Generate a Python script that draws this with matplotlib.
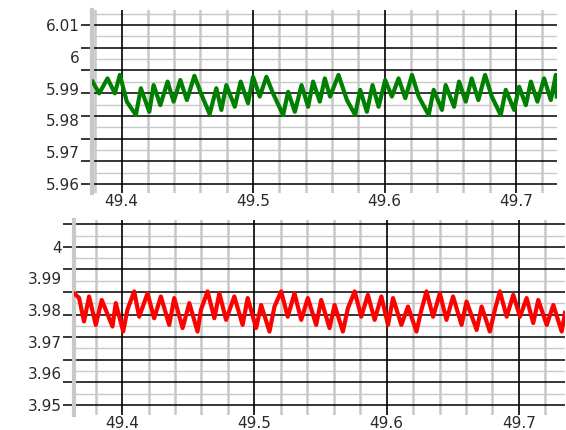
import numpy as np
import matplotlib.pyplot as plt

# ---- data (local peaks / troughs of each trace) ----
top_x = [49.3779, 49.3830, 49.3893, 49.3949, 49.3987, 49.4040, 49.4109, 49.4147,
         49.4211, 49.4244, 49.4295, 49.4350, 49.4396, 49.4447, 49.4497, 49.4554,
         49.4604, 49.4670, 49.4721, 49.4759, 49.4797, 49.4861, 49.4906, 49.4962,
         49.5000, 49.5051, 49.5102, 49.5152, 49.5229, 49.5267, 49.5318, 49.5369,
         49.5419, 49.5457, 49.5508, 49.5546, 49.5586, 49.5650, 49.5714, 49.5777,
         49.5815, 49.5866, 49.5909, 49.5955, 49.6005, 49.6056, 49.6107, 49.6158,
         49.6209, 49.6260, 49.6336, 49.6374, 49.6437, 49.6465, 49.6529, 49.6567,
         49.6618, 49.6663, 49.6714, 49.6765, 49.6816, 49.6884, 49.6922, 49.6986,
         49.7024, 49.7075, 49.7113, 49.7163, 49.7214, 49.7265, 49.7303, 49.7310]
top_y = [5.9922, 5.9885, 5.9932, 5.9885, 5.9943, 5.9859, 5.9817, 5.9901,
         5.9827, 5.9911, 5.9848, 5.9922, 5.9859, 5.9927, 5.9864, 5.9940,
         5.9885, 5.9820, 5.9901, 5.9833, 5.9911, 5.9843, 5.9922, 5.9854,
         5.9937, 5.9875, 5.9937, 5.9885, 5.9817, 5.9890, 5.9827, 5.9911,
         5.9843, 5.9922, 5.9859, 5.9932, 5.9875, 5.9943, 5.9864, 5.9817,
         5.9896, 5.9827, 5.9911, 5.9843, 5.9927, 5.9875, 5.9932, 5.9870,
         5.9943, 5.9875, 5.9817, 5.9896, 5.9833, 5.9911, 5.9843, 5.9922,
         5.9859, 5.9932, 5.9864, 5.9943, 5.9875, 5.9817, 5.9896, 5.9833,
         5.9906, 5.9848, 5.9922, 5.9859, 5.9932, 5.9864, 5.9943, 5.9875]

bot_x = [49.3636, 49.3674, 49.3712, 49.3750, 49.3801, 49.3846, 49.3927, 49.3952,
         49.4008, 49.4040, 49.4091, 49.4129, 49.4192, 49.4242, 49.4293, 49.4356,
         49.4394, 49.4457, 49.4508, 49.4570, 49.4596, 49.4646, 49.4697, 49.4735,
         49.4786, 49.4848, 49.4911, 49.4949, 49.5013, 49.5051, 49.5114, 49.5152,
         49.5202, 49.5252, 49.5303, 49.5354, 49.5404, 49.5467, 49.5505, 49.5568,
         49.5606, 49.5669, 49.5707, 49.5758, 49.5808, 49.5858, 49.5909, 49.5960,
         49.6010, 49.6048, 49.6111, 49.6161, 49.6225, 49.6263, 49.6301, 49.6351,
         49.6402, 49.6452, 49.6502, 49.6566, 49.6604, 49.6680, 49.6718, 49.6780,
         49.6818, 49.6856, 49.6907, 49.6957, 49.7008, 49.7058, 49.7108, 49.7146,
         49.7210, 49.7260, 49.7323, 49.7348]
bot_y = [3.9853, 3.9839, 3.9764, 3.9843, 3.9753, 3.9832, 3.9748, 3.9822,
         3.9732, 3.9801, 3.9859, 3.9779, 3.9853, 3.9774, 3.9843, 3.9753,
         3.9838, 3.9743, 3.9822, 3.9732, 3.9801, 3.9859, 3.9774, 3.9853,
         3.9769, 3.9843, 3.9753, 3.9838, 3.9743, 3.9816, 3.9732, 3.9811,
         3.9859, 3.9779, 3.9853, 3.9769, 3.9838, 3.9753, 3.9832, 3.9743,
         3.9816, 3.9732, 3.9806, 3.9859, 3.9779, 3.9848, 3.9769, 3.9843,
         3.9753, 3.9838, 3.9753, 3.9811, 3.9732, 3.9801, 3.9859, 3.9779,
         3.9853, 3.9769, 3.9843, 3.9753, 3.9827, 3.9737, 3.9811, 3.9732,
         3.9801, 3.9859, 3.9779, 3.9848, 3.9779, 3.9838, 3.9759, 3.9832,
         3.9753, 3.9816, 3.9732, 3.9791]

x_ticks = [49.4, 49.5, 49.6, 49.7]
top_labels = [5.96, 5.97, 5.98, 5.99, 6.0, 6.01]
bot_labels = [3.95, 3.96, 3.97, 3.98, 3.99, 4.0]

GRAY = '#c8c8c8'
TXT = '#2a2a2a'


def fmt(v):
    s = '%.2f' % v
    return s.rstrip('0').rstrip('.')


def style(ax, xlim, ylim, ymajor, labels):
    for s in ['top', 'right', 'bottom']:
        ax.spines[s].set_visible(False)
    ax.spines['left'].set_color(GRAY)
    ax.spines['left'].set_linewidth(3)
    # y labels sit on 0.01 steps, which can coincide with the black lines
    ax.yaxis.remove_overlapping_locs = False

    # vertical grid: black every 0.1, gray every 0.02
    ax.set_xticks(x_ticks)
    ax.set_xticklabels([str(v) for v in x_ticks])
    ax.set_xticks(np.arange(49.30, 49.80, 0.02), minor=True)
    ax.tick_params(axis='x', which='both', length=0, pad=1,
                   labelsize=11, labelcolor=TXT)
    ax.xaxis.grid(True, which='major', color='black', lw=1.2, zorder=0.6)
    ax.xaxis.grid(True, which='minor', color=GRAY, lw=1.8)

    # horizontal grid: black lines with little dashes, labels on 0.01 steps
    ax.set_yticks(ymajor)
    ax.set_yticklabels([])
    ax.yaxis.grid(True, which='major', color='black', lw=1.1)
    ax.tick_params(axis='y', which='major', length=8, width=1.1,
                   color='black', direction='out')
    ax.set_yticks(labels, minor=True)
    ax.set_yticklabels([fmt(v) for v in labels], minor=True)
    ax.tick_params(axis='y', which='minor', length=0, pad=9,
                   labelsize=11, labelcolor=TXT)
    step = ymajor[1] - ymajor[0]
    for v in np.arange(ymajor[0] - step / 2, ylim[1], step):
        ax.axhline(v, color=GRAY, lw=1.0, zorder=0.4)
    ax.set_axisbelow(True)
    ax.set_xlim(*xlim)
    ax.set_ylim(*ylim)


fig = plt.figure(figsize=(5.66, 4.30), dpi=100)

ax1 = fig.add_axes([0.1625, 0.5512, 0.8216, 0.4256])
ax1.plot(top_x, top_y, color='#008000', lw=3.0, zorder=3)
style(ax1, (49.3775, 49.7312), (5.9572, 6.0147),
      np.linspace(5.96, 6.01, 8), top_labels)

ax2 = fig.add_axes([0.1307, 0.0349, 0.8675, 0.4535])
ax2.plot(bot_x, bot_y, color='#ff0000', lw=3.0, zorder=3)
style(ax2, (49.3636, 49.7348), (3.9468, 4.0085),
      3.95 + np.arange(9) * 0.05 / 7, bot_labels)

fig.savefig('out.png', dpi=100)
